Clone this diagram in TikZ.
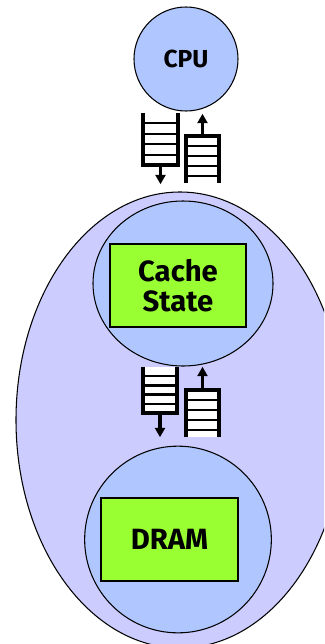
\documentclass[tikz,border=0pt]{standalone}
\usepackage{fontspec}
\setmainfont{Fira Sans}
\usetikzlibrary{arrows.meta,calc}
\usetikzlibrary{shapes.geometric}

\definecolor{lilla}{RGB}{204,204,255}
\definecolor{azzurro}{RGB}{176,198,255}
\definecolor{verde}{RGB}{153,255,51}

\begin{document}
\begin{tikzpicture}[
    x=0.03cm, y=-0.03cm,
    >={Triangle[length=8pt,width=8.5pt]},
    cerchio/.style={ellipse, draw, line width=0.9pt, fill=azzurro},
    scatola/.style={draw, line width=1.5pt, fill=verde, align=center,
      font=\bfseries\fontsize{25}{28}\selectfont},
    coda/.style={draw=none, minimum width=1cm, minimum height=1.4cm},
    bordo/.style={line width=3pt},
    gradino/.style={line width=2pt}
  ]

  \useasboundingbox (0,0) rectangle (324,644);
  \clip (0,0) rectangle (324,644);

  % nodi
  \node[ellipse, draw, line width=0.9pt, fill=lilla,
    minimum width=9.84cm, minimum height=13.68cm] (sistema) at (180,420) {};

  \node[cerchio, minimum size=3.12cm,
    font=\bfseries\fontsize{21}{24}\selectfont] (cpu) at (186,59) {CPU};

  \node[cerchio, minimum width=5.4cm, minimum height=4.95cm] (cache) at (183,283.5) {};
  \node[scatola, minimum width=4.08cm, minimum height=2.49cm] (stato) at (178,285.5) {Cache\\[-2pt]State};

  \node[cerchio, minimum size=5.6cm] (mem) at (178,539.5) {};
  \node[scatola, minimum width=4.11cm, minimum height=2.49cm] (dram) at (169.5,539.5) {DRAM};

  % code
  \node[coda, minimum width=1.05cm, minimum height=1.56cm] (q1) at (160.5,139) {};
  \node[coda, minimum width=0.99cm, minimum height=1.41cm] (q2) at (202.5,159.5) {};
  \node[coda, minimum width=1.02cm, minimum height=1.38cm] (q3) at (160,390) {};
  \node[coda, minimum width=0.99cm, minimum height=1.41cm] (q4) at (202.5,413.5) {};

  % code verso il basso (aperte in alto)
  \foreach \q in {q1,q3} {
    \fill[white] (\q.north west) rectangle (\q.south east);
    \foreach \f in {0.2,0.4,0.6,0.8}
      \draw[gradino] ($(\q.north west)!\f!(\q.south west)$) -- ($(\q.north east)!\f!(\q.south east)$);
    \draw[bordo] (\q.north west) -- (\q.south west) -- (\q.south east) -- (\q.north east);
  }

  % code verso l'alto (aperte in basso)
  \foreach \q in {q2,q4} {
    \fill[white] (\q.north west) rectangle (\q.south east);
    \foreach \f in {0.22,0.43,0.64,0.85}
      \draw[gradino] ($(\q.north west)!\f!(\q.south west)$) -- ($(\q.north east)!\f!(\q.south east)$);
    \draw[bordo] (\q.south west) -- (\q.north west) -- (\q.north east) -- (\q.south east);
  }

  % collegamenti
  \draw[bordo,->] (q1.south) -- ++(0,19);
  \draw[bordo,->] (q2.north) -- ++(0,-22);
  \draw[bordo,->] (q3.south) -- ++(0,24);
  \draw[bordo,->] (q4.north) -- ++(0,-23);

\end{tikzpicture}
\end{document}
